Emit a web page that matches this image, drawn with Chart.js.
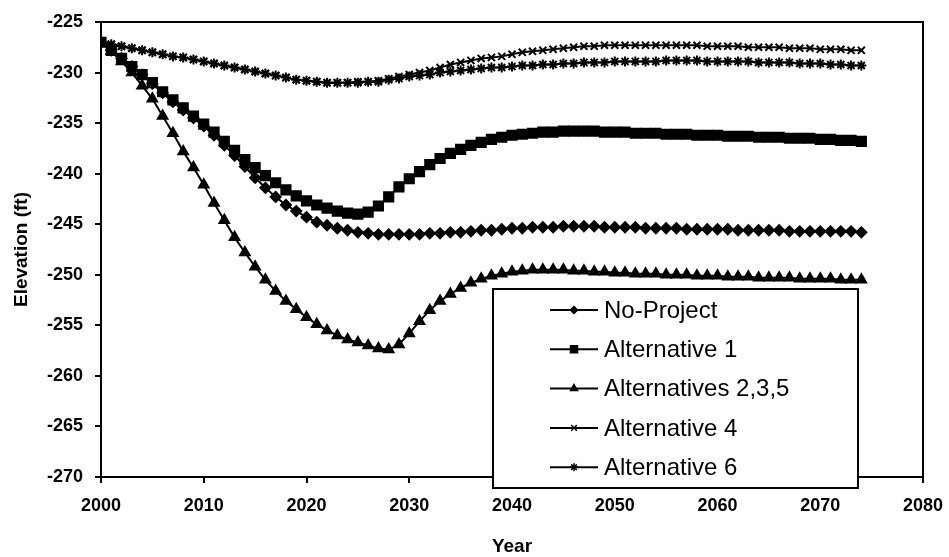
<!DOCTYPE html>
<html>
<head>
<meta charset="utf-8">
<script src="https://cdn.jsdelivr.net/npm/chart.js@4.4.1/dist/chart.umd.min.js"></script>
<style>
  html, body { margin: 0; padding: 0; background: #fff; }
  #wrap { width: 949px; height: 557px; }
</style>
</head>
<body>
<div id="wrap"><canvas id="elevChart" width="949" height="557"></canvas></div>
<script>
// years 2000..2074, one value per year
const years = [];
for (let y = 2000; y <= 2074; y++) years.push(y);

const noProject = [
  -227.0,-227.8,-228.6,-229.4,-230.2,-231.1,-232.0,-232.9,-233.7,-234.5,
  -235.3,-236.2,-237.2,-238.2,-239.3,-240.4,-241.4,-242.3,-243.1,-243.7,
  -244.3,-244.8,-245.1,-245.4,-245.6,-245.8,-245.9,-246.0,-246.0,-246.0,
  -246.0,-246.0,-245.9,-245.9,-245.8,-245.8,-245.7,-245.6,-245.6,-245.5,
  -245.4,-245.4,-245.3,-245.3,-245.3,-245.2,-245.2,-245.2,-245.2,-245.3,
  -245.3,-245.3,-245.3,-245.4,-245.4,-245.4,-245.4,-245.5,-245.5,-245.5,
  -245.5,-245.5,-245.6,-245.6,-245.6,-245.6,-245.6,-245.7,-245.7,-245.7,
  -245.7,-245.7,-245.7,-245.7,-245.8
];

const alt1 = [
  -227.0,-227.8,-228.6,-229.4,-230.2,-231.0,-231.9,-232.7,-233.5,-234.3,
  -235.1,-235.9,-236.8,-237.7,-238.6,-239.4,-240.2,-240.9,-241.6,-242.2,
  -242.7,-243.1,-243.4,-243.7,-243.9,-244.0,-243.8,-243.2,-242.3,-241.3,
  -240.5,-239.8,-239.1,-238.5,-238.0,-237.6,-237.2,-236.9,-236.6,-236.4,
  -236.2,-236.1,-236.0,-235.9,-235.9,-235.8,-235.8,-235.8,-235.8,-235.9,
  -235.9,-235.9,-236.0,-236.0,-236.0,-236.1,-236.1,-236.1,-236.2,-236.2,
  -236.2,-236.3,-236.3,-236.3,-236.4,-236.4,-236.4,-236.5,-236.5,-236.5,
  -236.6,-236.6,-236.7,-236.7,-236.8
];

const alt235 = [
  -227.0,-227.9,-228.9,-230.0,-231.3,-232.6,-234.3,-236.0,-237.8,-239.4,
  -241.1,-242.9,-244.6,-246.3,-247.8,-249.2,-250.5,-251.6,-252.6,-253.4,
  -254.2,-254.9,-255.5,-256.0,-256.4,-256.7,-257.0,-257.3,-257.4,-256.9,
  -255.8,-254.6,-253.5,-252.6,-251.9,-251.3,-250.8,-250.4,-250.1,-249.9,
  -249.7,-249.6,-249.5,-249.5,-249.5,-249.5,-249.6,-249.6,-249.7,-249.7,
  -249.8,-249.8,-249.9,-249.9,-249.9,-250.0,-250.0,-250.0,-250.1,-250.1,
  -250.1,-250.2,-250.2,-250.2,-250.3,-250.3,-250.3,-250.3,-250.4,-250.4,
  -250.4,-250.4,-250.5,-250.5,-250.5
];

const alt4 = [
  -227.0,-227.2,-227.4,-227.6,-227.8,-228.0,-228.2,-228.4,-228.5,-228.7,
  -228.9,-229.1,-229.3,-229.5,-229.7,-229.9,-230.1,-230.3,-230.5,-230.7,
  -230.8,-230.9,-231.0,-231.0,-231.0,-230.9,-230.9,-230.8,-230.6,-230.4,
  -230.2,-230.0,-229.8,-229.5,-229.2,-229.0,-228.8,-228.6,-228.5,-228.4,
  -228.2,-228.0,-227.9,-227.8,-227.7,-227.6,-227.5,-227.4,-227.4,-227.3,
  -227.3,-227.3,-227.3,-227.3,-227.3,-227.3,-227.3,-227.3,-227.3,-227.4,
  -227.4,-227.4,-227.4,-227.5,-227.5,-227.5,-227.5,-227.6,-227.6,-227.6,
  -227.7,-227.7,-227.7,-227.8,-227.8
];

const alt6 = [
  -227.0,-227.2,-227.4,-227.6,-227.8,-228.0,-228.2,-228.4,-228.5,-228.7,
  -228.9,-229.1,-229.3,-229.5,-229.7,-229.9,-230.1,-230.3,-230.5,-230.7,
  -230.8,-230.9,-231.0,-231.0,-231.0,-231.0,-230.9,-230.9,-230.7,-230.6,
  -230.4,-230.3,-230.2,-230.0,-229.9,-229.8,-229.7,-229.6,-229.5,-229.5,
  -229.4,-229.3,-229.3,-229.2,-229.2,-229.1,-229.1,-229.0,-229.0,-229.0,
  -228.9,-228.9,-228.9,-228.9,-228.9,-228.8,-228.8,-228.8,-228.8,-228.9,
  -228.9,-228.9,-228.9,-228.9,-229.0,-229.0,-229.0,-229.0,-229.1,-229.1,
  -229.1,-229.2,-229.2,-229.3,-229.3
];

const seriesLabels = ["No-Project", "Alternative 1", "Alternatives 2,3,5", "Alternative 4", "Alternative 6"];
const seriesData = [noProject, alt1, alt235, alt4, alt6];
const markerStyles = ["rectRot", "rect", "triangle", "crossRot", "star"];
const markerSizes = [5, 6.5, 5.5, 5, 5];
const legendMarkerSizes = [3.5, 5, 4, 4, 4];

const yTicks = [-270, -265, -260, -255, -250, -245, -240, -235, -230, -225];
const xTicks = [2000, 2010, 2020, 2030, 2040, 2050, 2060, 2070, 2080];

const datasets = seriesLabels.map((label, i) => ({
  label: label,
  data: years.map((yr, k) => ({ x: yr, y: seriesData[i][k] })),
  borderColor: "#000",
  backgroundColor: "#000",
  borderWidth: 2,
  pointStyle: markerStyles[i],
  pointRadius: markerSizes[i],
  pointBorderWidth: 2,
  pointBorderColor: "#000",
  pointBackgroundColor: "#000",
  tension: 0
}));

// box around the plot area
const frame = {
  id: "frame",
  afterDatasetsDraw(chart) {
    const { ctx, chartArea: a } = chart;
    ctx.save();
    ctx.strokeStyle = "#000";
    ctx.lineWidth = 2;
    ctx.strokeRect(a.left, a.top, a.right - a.left, a.bottom - a.top);
    ctx.restore();
  }
};

// legend box sitting over the lower right of the plot
const boxLegend = {
  id: "boxLegend",
  afterDraw(chart) {
    const { ctx, chartArea: a } = chart;
    const left = a.right - 430, top = a.top + 267;
    const w = 365, h = 199;
    ctx.save();
    ctx.fillStyle = "#fff";
    ctx.fillRect(left, top, w, h);
    ctx.strokeStyle = "#000";
    ctx.lineWidth = 2;
    ctx.strokeRect(left, top, w, h);
    ctx.font = "24px 'Liberation Sans', Arial, sans-serif";
    ctx.textBaseline = "middle";
    ctx.fillStyle = "#000";
    chart.data.datasets.forEach((ds, i) => {
      const cy = top + 21 + i * 39.3;
      ctx.beginPath();
      ctx.lineWidth = 2;
      ctx.moveTo(left + 57, cy);
      ctx.lineTo(left + 105, cy);
      ctx.stroke();
      ctx.lineWidth = 1.5;
      Chart.helpers.drawPoint(ctx, {
        pointStyle: ds.pointStyle,
        radius: legendMarkerSizes[i],
        borderWidth: 1.5,
        rotation: 0
      }, left + 81, cy);
      ctx.fill();
      ctx.fillStyle = "#000";
      ctx.fillText(ds.label, left + 111, cy + 1);
    });
    ctx.restore();
  }
};

const tickFont = { family: "'Liberation Sans', Arial, sans-serif", size: 18, weight: "bold" };

new Chart(document.getElementById("elevChart"), {
  type: "line",
  data: { datasets: datasets },
  options: {
    responsive: false,
    animation: false,
    layout: { padding: { top: 22, right: 26, left: 0, bottom: 0 } },
    plugins: { legend: { display: false }, tooltip: { enabled: false } },
    scales: {
      x: {
        type: "linear",
        min: 2000,
        max: 2080,
        afterBuildTicks: (s) => { s.ticks = xTicks.map(v => ({ value: v })); },
        afterFit: (s) => { s.height = 80; s.paddingLeft = 0; s.paddingRight = 0; },
        ticks: { color: "#000", font: tickFont, padding: 12, maxRotation: 0, callback: v => String(v) },
        grid: { drawOnChartArea: false, drawTicks: true, tickLength: 6, color: "#000", lineWidth: 2 },
        border: { display: true, color: "#000", width: 2 },
        title: { display: true, text: "Year", color: "#000", font: { family: tickFont.family, size: 19, weight: "bold", lineHeight: 1 }, padding: { top: 0, bottom: 1 } }
      },
      y: {
        min: -270,
        max: -225,
        afterBuildTicks: (s) => { s.ticks = yTicks.map(v => ({ value: v })); },
        afterFit: (s) => { s.width = 101; s.paddingTop = 0; s.paddingBottom = 0; },
        ticks: { color: "#000", font: tickFont, padding: 12 },
        grid: { drawOnChartArea: false, drawTicks: true, tickLength: 6, color: "#000", lineWidth: 2 },
        border: { display: true, color: "#000", width: 2 },
        title: { display: true, text: "Elevation (ft)", color: "#000", font: { family: tickFont.family, size: 19, weight: "bold", lineHeight: 1 }, padding: { top: 12, bottom: 0 } }
      }
    }
  },
  plugins: [frame, boxLegend]
});
</script>
</body>
</html>
